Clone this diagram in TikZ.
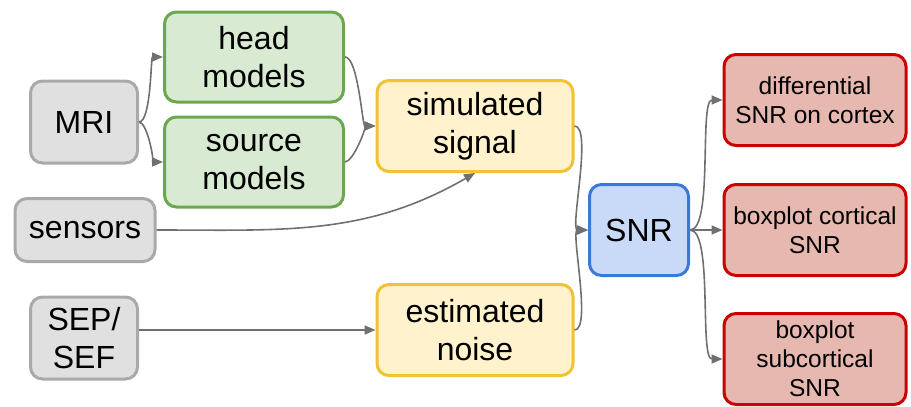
\documentclass[tikz,border=0pt]{standalone}
\usepackage{fontspec}
\setmainfont{Liberation Sans}
\usetikzlibrary{arrows.meta, positioning}

\definecolor{grayfill}{HTML}{E0E0E0}
\definecolor{graydraw}{HTML}{A9A9A9}
\definecolor{greenfill}{HTML}{D9EAD3}
\definecolor{greendraw}{HTML}{6AA84F}
\definecolor{yellowfill}{HTML}{FFF2CC}
\definecolor{yellowdraw}{HTML}{F1C232}
\definecolor{bluefill}{HTML}{C9DAF8}
\definecolor{bluedraw}{HTML}{3C78D8}
\definecolor{redfill}{HTML}{E6B8AF}
\definecolor{reddraw}{HTML}{CC0000}
\definecolor{linkgray}{HTML}{707070}

\begin{document}
\begin{tikzpicture}[x=1pt,y=-1pt,
 box/.style={rounded corners=12pt, line width=3pt, align=center, inner sep=0pt,
   font=\fontsize{32}{38}\selectfont},
 gray node/.style={box, draw=graydraw, fill=grayfill},
 green node/.style={box, draw=greendraw, fill=greenfill, minimum width=179pt, minimum height=90pt},
 yellow node/.style={box, draw=yellowdraw, fill=yellowfill, minimum width=196pt, minimum height=91pt},
 blue node/.style={box, draw=bluedraw, fill=bluefill, minimum width=99pt, minimum height=91pt},
 red node/.style={box, draw=reddraw, fill=redfill, minimum width=182pt, minimum height=91pt,
   font=\fontsize{24.5}{29}\selectfont},
 link/.style={draw=linkgray, line width=1.6pt, looseness=0.45,
   -{Triangle[length=11pt,width=9pt]}}]
  \useasboundingbox (0,0) rectangle (911,407);

  % inputs
  \node[gray node, minimum width=107pt, minimum height=82pt] (mri) at (84,122) {MRI};
  \node[gray node, minimum width=140pt, minimum height=63pt] (sensors) at (85,230) {sensors};
  \node[gray node, minimum width=107pt, minimum height=82pt] (sep) at (84,338) {SEP/\\SEF};

  % models
  \node[green node] (head) at (254,57) {head\\models};
  \node[green node] (source) at (254,162) {source\\models};

  % signal and noise
  \node[yellow node] (signal) at (475,126) {simulated\\signal};
  \node[yellow node] (noise) at (475,330) {estimated\\noise};

  \node[blue node] (snr) at (639,230) {SNR};

  % outputs
  \node[red node] (diff) at (815,100) {differential\\SNR on cortex};
  \node[red node] (cortical) at (815,230) {boxplot cortical\\SNR};
  \node[red node] (subcortical) at (815,359) {boxplot\\subcortical\\SNR};

  \foreach \s/\t in {mri/head, mri/source, head/signal, source/signal,
    signal/snr, noise/snr, snr/diff, snr/cortical, snr/subcortical} {
   \path[link] (\s.east) to[out=0,in=180] (\t.west);}
  \path[link] (sensors.east) to[out=0,in=210,looseness=1] (signal.south);
  \path[link] (sep.east |- noise.west) -- (noise.west);
\end{tikzpicture}
\end{document}
